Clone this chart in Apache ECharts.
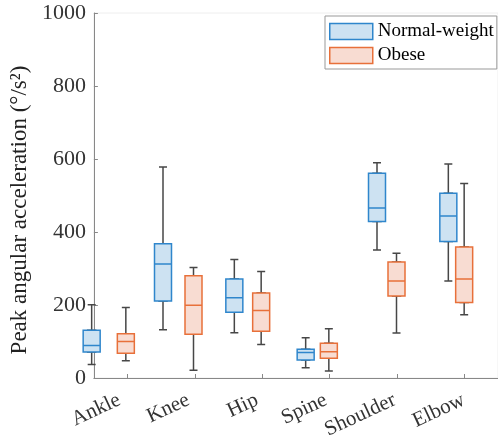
<!DOCTYPE html>
<html><head><meta charset="utf-8">
<script src="https://cdn.jsdelivr.net/npm/echarts@6/dist/echarts.min.js"></script>
<style>html,body{margin:0;padding:0;background:#fff}#c{width:498px;height:442px}</style>
</head><body><div id="c"></div>
<script>
// Data: [min, Q1, median, Q3, max]
const categories = ['Ankle', 'Knee', 'Hip', 'Spine', 'Shoulder', 'Elbow'];
const normalWeight = [
  [37, 71, 89, 131, 201],
  [132, 211, 312, 368, 578],
  [124, 180, 220, 271, 325],
  [28, 49, 70, 79, 110],
  [351, 429, 466, 561, 590],
  [266, 374, 444, 506, 586]
];
const obese = [
  [47, 68, 100, 121, 193],
  [21, 120, 199, 280, 303],
  [92, 128, 185, 233, 292],
  [19, 54, 72, 95, 135],
  [123, 225, 266, 318, 342],
  [173, 207, 271, 359, 533]
];
const yTicks = [0, 200, 400, 600, 800, 1000];

const FONT = "'Liberation Serif', 'Times New Roman', serif";
const BLUE = '#2f86cc', BLUE_FILL = '#cde2f2';
const ORANGE = '#e8703a', ORANGE_FILL = '#f8dcd2';
const GRAY = '#474747';
const boxOnly = d => [d[1], d[1], d[2], d[3], d[3]];

const chart = echarts.init(document.getElementById('c'), null, {renderer: 'canvas'});
const hiddenX = gi => ({type: 'category', data: categories, gridIndex: gi, show: false});
const hiddenY = gi => ({type: 'value', min: yTicks[0], max: yTicks[yTicks.length - 1], gridIndex: gi, show: false});

chart.setOption({
  animation: false,
  backgroundColor: '#fff',
  grid: [
    {left: 74, right: -4, top: 13, bottom: 64, show: true, borderColor: '#eeeeee', borderWidth: 1},
    {left: 56, right: 14, top: 13, bottom: 64},
    {left: 92, right: -22, top: 13, bottom: 64},
    {left: 85, right: -15, top: 13, bottom: 64}
  ],
  legend: {
    data: [
      {name: 'Normal-weight', itemStyle: {color: BLUE_FILL, borderColor: BLUE, borderWidth: 1.5}},
      {name: 'Obese', itemStyle: {color: ORANGE_FILL, borderColor: ORANGE, borderWidth: 1.5}}
    ],
    orient: 'vertical',
    left: 325, top: 16,
    icon: 'rect', itemWidth: 43, itemHeight: 16, itemGap: 5,
    padding: [6, 3, 4, 4],
    backgroundColor: '#fff', borderColor: '#999', borderWidth: 1,
    textStyle: {fontFamily: FONT, fontSize: 19, color: '#000'}
  },
  xAxis: [
    {type: 'category', data: categories, gridIndex: 0,
     axisLine: {lineStyle: {color: '#888', width: 1}},
     axisTick: {show: true, alignWithLabel: true, inside: true, length: 4, lineStyle: {color: '#888'}},
     axisLabel: {show: false}},
    hiddenX(1), hiddenX(1), hiddenX(2), hiddenX(2),
    {type: 'category', data: categories, gridIndex: 3,
     axisLine: {show: false}, axisTick: {show: false},
     axisLabel: {rotate: 25, margin: 21, fontFamily: FONT, fontSize: 21, color: '#333'}}
  ],
  yAxis: [
    {type: 'value', gridIndex: 0, min: yTicks[0], max: yTicks[yTicks.length - 1], interval: 200,
     name: 'Peak angular acceleration (°/s²)', nameLocation: 'middle', nameGap: 45,
     nameTextStyle: {fontFamily: FONT, fontSize: 23, color: '#222', padding: [0, 29, 0, 0]},
     axisLine: {show: true, lineStyle: {color: '#888', width: 1}},
     axisTick: {show: true, inside: true, length: 4, lineStyle: {color: '#888'}},
     splitLine: {show: false},
     axisLabel: {margin: 8, fontFamily: FONT, fontSize: 22, color: '#333', formatter: v => String(v)}},
    hiddenY(1), hiddenY(2), hiddenY(3)
  ],
  series: [
    {name: 'nw-whisker', type: 'boxplot', xAxisIndex: 1, yAxisIndex: 1, data: normalWeight,
     boxWidth: [8, 8], itemStyle: {color: 'rgba(0,0,0,0)', borderColor: GRAY, borderWidth: 1.5}, silent: true},
    {name: 'Normal-weight', type: 'boxplot', xAxisIndex: 2, yAxisIndex: 1, data: normalWeight.map(boxOnly),
     boxWidth: [17, 17], itemStyle: {color: BLUE_FILL, borderColor: BLUE, borderWidth: 1.5}},
    {name: 'ob-whisker', type: 'boxplot', xAxisIndex: 3, yAxisIndex: 2, data: obese,
     boxWidth: [8, 8], itemStyle: {color: 'rgba(0,0,0,0)', borderColor: GRAY, borderWidth: 1.5}, silent: true},
    {name: 'Obese', type: 'boxplot', xAxisIndex: 4, yAxisIndex: 2, data: obese.map(boxOnly),
     boxWidth: [17, 17], itemStyle: {color: ORANGE_FILL, borderColor: ORANGE, borderWidth: 1.5}}
  ]
});
</script></body></html>
